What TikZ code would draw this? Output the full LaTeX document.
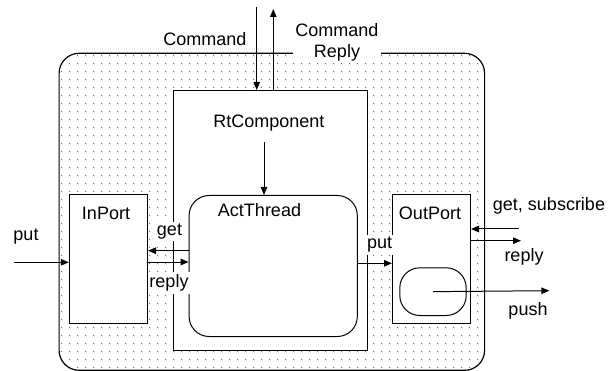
\documentclass[tikz,border=0pt]{standalone}
\usepackage{fontspec}
\setmainfont{Liberation Sans}
\usetikzlibrary{arrows.meta,patterns.meta}

% fine stipple used for the container background
\tikzdeclarepattern{
  name=stipple,
  type=uncolored,
  bounding box={(0pt,0pt) and (8.3pt,8pt)},
  tile size={(8.3pt,8pt)},
  code={\fill (4pt,4pt) circle (0.6pt);}
}

\tikzset{
  lbl/.style={font=\fontsize{18}{21}\selectfont, inner sep=2pt},
  mask/.style={lbl, fill=white},
  box/.style={draw, line width=1pt, fill=white, inner sep=0pt, anchor=north west},
  arr/.style={line width=1pt, -{Triangle[length=8pt,width=6.5pt]}},
}

\begin{document}
\begin{tikzpicture}[x=1pt,y=-1pt]
\useasboundingbox (0,0) rectangle (615,371);

% container
\node[box, fill=none, pattern=stipple, pattern color=black!70, line width=1.2pt,
      rounded corners=20pt, minimum width=425.5pt, minimum height=317pt]
      (outer) at (58.5,52.7) {};

% component and its thread
\node[box, minimum width=194pt, minimum height=260pt] (rtc) at (172.5,90) {};
\node[box, rounded corners=20pt, minimum width=168.2pt, minimum height=141pt]
      (act) at (188.6,195) {};

% ports
\node[box, minimum width=78.2pt, minimum height=128.7pt] (inport) at (68.8,194) {};
\node[box, minimum width=78pt, minimum height=129.3pt] (outport) at (392,194) {};
\node[box, rounded corners=20pt, minimum width=66.4pt, minimum height=47.7pt]
      (buf) at (399.3,267.3) {};

% free ends of the connectors
\coordinate (cmdtop) at (256.7,7);
\coordinate (reptop) at (273.3,9);
\coordinate (rtcsrc) at (264,141.7);
\coordinate (putsrc) at (13.7,262.3);
\coordinate (getsrc) at (519,229);
\coordinate (repdst) at (521,240.7);
\coordinate (pushdst) at (549.3,290.7);
\coordinate (ygetin) at (0,250.7);
\coordinate (yrepin) at (0,262);
\coordinate (yput) at (0,263.3);
\coordinate (yrepout) at (0,240.7);

% connectors
\draw[arr] (cmdtop) -- (cmdtop |- rtc.north);
\draw[arr] (reptop |- rtc.north) -- (reptop);
\draw[arr] (rtcsrc) -- (rtcsrc |- act.north);
\draw[arr] (putsrc) -- (putsrc -| inport.west);
\draw[arr] (act.west |- ygetin) -- (inport.east |- ygetin);
\draw[arr] (inport.east |- yrepin) -- (act.west |- yrepin);
\draw[arr] (act.east |- yput) -- (outport.west |- yput);
\draw[arr] (getsrc) -- (getsrc -| outport.east);
\draw[arr] (outport.east |- yrepout) -- (repdst);
\draw[arr] (buf.center) -- (pushdst);

% labels
\node[lbl] (tcmd) at (205,39) {Command};
\node[mask, align=center] (tcmdrep) at (337,42.5) {Command\\Reply};
\node[lbl] (trtc) at (268.8,123.3) {RtComponent};
\node[lbl] (tact) at (259.5,210) {ActThread};
\node[lbl] (tin) at (106,213) {InPort};
\node[lbl] (tout) at (430,213.3) {OutPort};
\node[lbl] (tputin) at (26,237) {put};
\node[mask] (tget) at (169.5,231.7) {get};
\node[mask, inner xsep=1.5pt, inner ysep=3pt] (trepin) at (169,283) {reply};
\node[mask] (tputout) at (379.6,245) {put};
\node[lbl] (tgetsub) at (549,206) {get, subscribe};
\node[lbl] (trepout) at (524,257) {reply};
\node[lbl] (tpush) at (528,310.7) {push};
\end{tikzpicture}
\end{document}
